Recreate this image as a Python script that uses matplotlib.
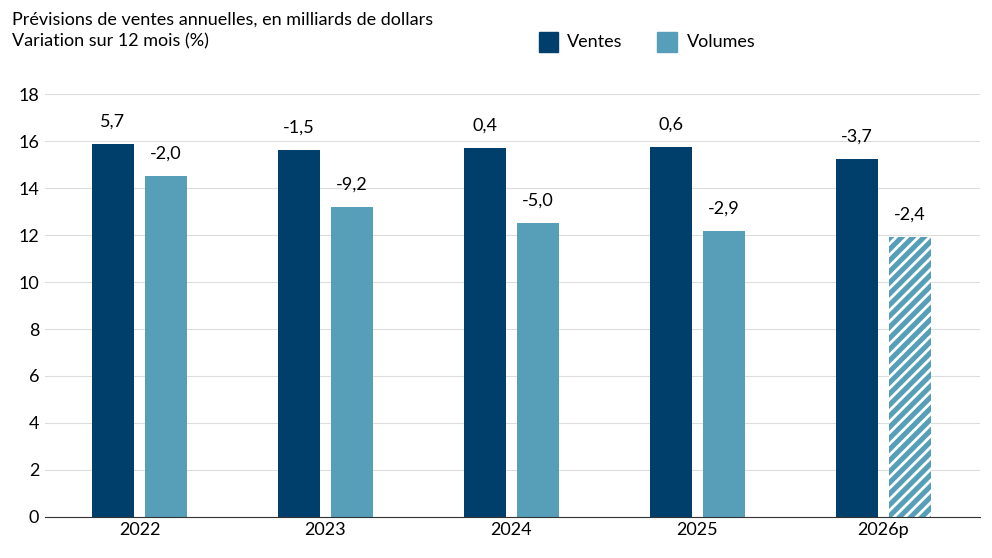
import matplotlib.pyplot as plt
import numpy as np

plt.rcParams['font.family'] = ['Lato', 'DejaVu Sans']
plt.rcParams['hatch.color'] = 'white'
plt.rcParams['hatch.linewidth'] = 2.0

years = ['2022', '2023', '2024', '2025', '2026p']
ventes = [15.87, 15.62, 15.70, 15.74, 15.23]
volumes = [14.51, 13.19, 12.51, 12.17, 11.91]
var_ventes = ['5,7', '-1,5', '0,4', '0,6', '-3,7']
var_volumes = ['-2,0', '-9,2', '-5,0', '-2,9', '-2,4']

dark = '#003f6b'
light = '#579fb8'

fig = plt.figure(figsize=(9.92, 5.58), dpi=100)
ax = fig.add_axes([0.045, 0.0735, 0.943, 0.758])
x = np.arange(len(years))
w = 0.226
off = 0.143
hatches = [None, None, None, None, '///']
for i in x:
    ax.bar(i - off, ventes[i], w, color=dark, hatch=hatches[i], edgecolor=dark if hatches[i] is None else dark, linewidth=0)
    ax.bar(i + off, volumes[i], w, color=light, hatch=hatches[i], linewidth=0)
    ax.text(i - off, ventes[i] + 0.6, var_ventes[i], ha='center', va='bottom', fontsize=13)
    ax.text(i + off, volumes[i] + 0.6, var_volumes[i], ha='center', va='bottom', fontsize=13)

ax.set_xlim(-0.51, 4.52)
ax.set_ylim(0, 18)
ax.set_yticks(range(0, 19, 2))
ax.set_xticks(x)
ax.set_xticklabels(years)
ax.tick_params(axis='both', labelsize=13, length=0)
ax.tick_params(axis='y', pad=4)
ax.grid(axis='y', color='#dddddd', linewidth=0.8)
ax.set_axisbelow(True)
for s in ['top', 'right', 'left']:
    ax.spines[s].set_visible(False)
ax.spines['bottom'].set_color('#333333')

fig.text(0.012, 0.965, 'Prévisions de ventes annuelles, en milliards de dollars', fontsize=13, va='center')
fig.text(0.012, 0.925, 'Variation sur 12 mois (%)', fontsize=13, va='center')
from matplotlib.patches import Rectangle
fig.patches.append(Rectangle((0.543, 0.907), 0.02, 0.036, transform=fig.transFigure, color=dark))
fig.text(0.572, 0.925, 'Ventes', fontsize=13, va='center')
fig.patches.append(Rectangle((0.662, 0.907), 0.02, 0.036, transform=fig.transFigure, color=light))
fig.text(0.692, 0.925, 'Volumes', fontsize=13, va='center')

fig.savefig('out.png', dpi=100)
